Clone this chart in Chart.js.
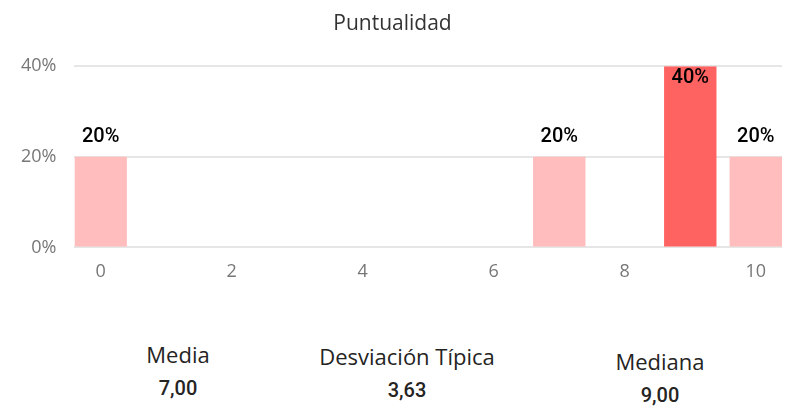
<!DOCTYPE html>
<html>
<head>
<meta charset="utf-8">
<script src="https://cdn.jsdelivr.net/npm/chart.js@4"></script>
<style>
  body { margin: 0; background: #fff; font-family: 'Open Sans', sans-serif; }
  #wrap { position: absolute; left: 0; top: 0; width: 785px; height: 290px; }
  .stat { position: absolute; text-align: center; width: 260px; }
  .stat .lbl { font-size: 22px; color: #252423; line-height: 28px; }
  .stat .val { font-family: Roboto, sans-serif; font-weight: 500; font-size: 20px; color: #252423; margin-top: 8px; line-height: 24px; }
</style>
</head>
<body>
<div id="wrap"><canvas id="chart"></canvas></div>
<div class="stat" style="left:48px; top:340px"><div class="lbl" id="s0l"></div><div class="val" id="s0v"></div></div>
<div class="stat" style="left:277px; top:342px"><div class="lbl" id="s1l"></div><div class="val" id="s1v"></div></div>
<div class="stat" style="left:530px; top:347px"><div class="lbl" id="s2l"></div><div class="val" id="s2v"></div></div>
<script>
const scores = [0, 7, 9, 10]
const shares = [20, 20, 40, 20]
const highlight = [false, false, true, false]
const xTicks = [0, 2, 4, 6, 8, 10]
const yTicks = [0, 20, 40]
const statLabels = ['Media', 'Desviación Típica', 'Mediana']
const statValues = ['7,00', '3,63', '9,00']

statLabels.forEach((l, i) => {
  document.getElementById('s' + i + 'l').textContent = l
  document.getElementById('s' + i + 'v').textContent = statValues[i]
})

// percentage labels over the bars, pushed inside when there's no room above
const barLabels = {
  id: 'barLabels',
  afterDatasetsDraw(chart) {
    const ctx = chart.ctx
    const meta = chart.getDatasetMeta(0)
    ctx.save()
    ctx.font = '500 20px Roboto, sans-serif'
    ctx.fillStyle = '#000'
    ctx.textAlign = 'center'
    ctx.textBaseline = 'alphabetic'
    meta.data.forEach((bar, i) => {
      let y = bar.y - 15
      if (y - 16 < chart.chartArea.top - 10) y = bar.y + 17
      ctx.fillText(shares[i] + '%', bar.x, y)
    })
    ctx.restore()
  }
}

new Chart(document.getElementById('chart'), {
  type: 'bar',
  data: {
    datasets: [{
      data: scores.map((s, i) => ({ x: s, y: shares[i] })),
      backgroundColor: highlight.map(h => h ? '#FF6361' : '#FFBDBD'),
      barPercentage: 1,
      categoryPercentage: 0.8,
    }],
  },
  options: {
    responsive: true,
    maintainAspectRatio: false,
    animation: false,
    layout: { padding: { left: 3, right: 3, top: 0, bottom: 1 } },
    plugins: {
      legend: { display: false },
      tooltip: { enabled: false },
      title: {
        display: true,
        text: 'Puntualidad',
        color: '#333',
        font: { family: 'Open Sans', size: 21, weight: 'normal' },
        padding: { top: 11, bottom: 30 },
      },
    },
    scales: {
      x: {
        type: 'linear',
        min: -0.4,
        max: 10.4,
        offset: false,
        grid: { display: false },
        border: { display: false },
        afterBuildTicks: scale => { scale.ticks = xTicks.map(v => ({ value: v })) },
        ticks: { color: '#777', font: { family: 'Open Sans', size: 18 }, padding: 6 },
      },
      y: {
        min: 0,
        max: 40,
        afterBuildTicks: scale => { scale.ticks = yTicks.map(v => ({ value: v })) },
        grid: { color: '#E6E6E6', lineWidth: 2, drawTicks: false },
        border: { display: false },
        ticks: { color: '#777', font: { family: 'Open Sans', size: 18 }, padding: 18, callback: v => v + '%' },
      },
    },
  },
  plugins: [barLabels],
})
</script>
</body>
</html>
